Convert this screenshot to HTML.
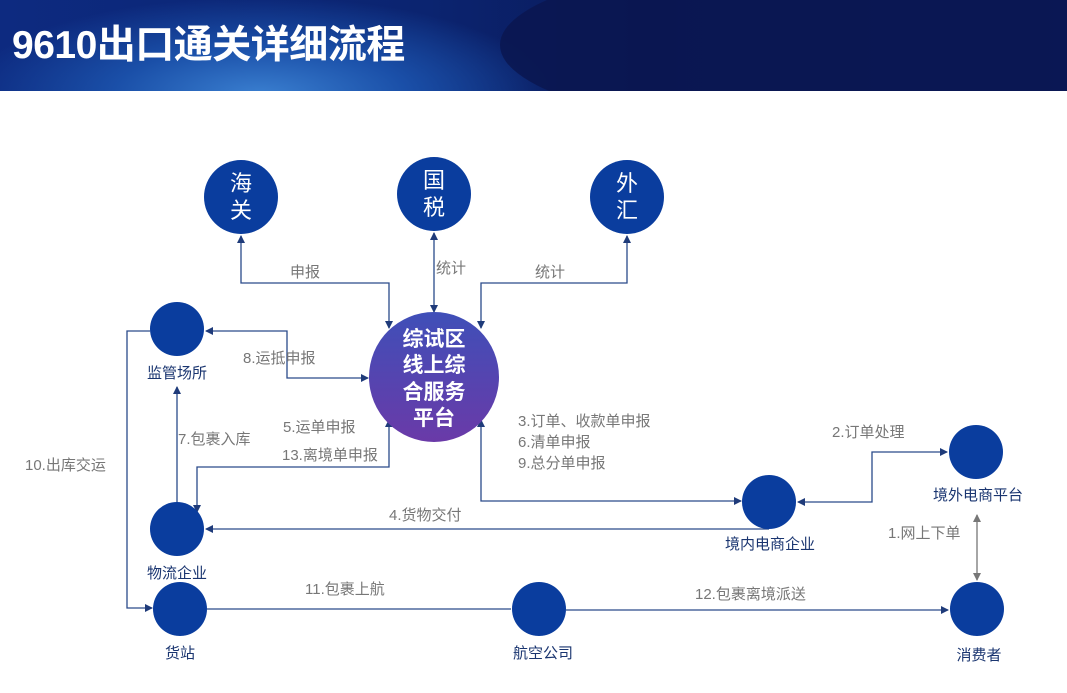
<!DOCTYPE html>
<html><head><meta charset="utf-8"><style>
html,body{margin:0;padding:0;width:1067px;height:693px;overflow:hidden;background:#fff;font-family:"Liberation Sans","Noto Sans CJK SC",sans-serif}
.hdr{position:absolute;left:0;top:0;width:1067px;height:91px;overflow:hidden;background:radial-gradient(ellipse 420px 140px at 260px 95px,#3a7fd0 0%,#1a4fa8 35%,transparent 70%),linear-gradient(90deg,#0d2a80 0%,#0b2470 40%,#0a1a5a 60%,#0c1f6a 100%)}
.hdr .e{position:absolute;left:500px;top:-40px;width:620px;height:170px;border-radius:50%;background:#0a1650;opacity:.85}
.ttl{position:absolute;left:12px;top:14px;color:#fff;font-size:39px;font-weight:bold;z-index:2;letter-spacing:-0.5px}
</style></head><body>
<div class="hdr"><div class="e"></div></div><div class="ttl">9610出口通关详细流程</div>
<svg width="1067" height="693" style="position:absolute;left:0;top:0" font-family="Liberation Sans, Noto Sans CJK SC, sans-serif">
<defs>
<marker id="a" markerWidth="8" markerHeight="8" refX="7" refY="4" orient="auto" markerUnits="userSpaceOnUse"><path d="M0,0 L8,4 L0,8 Z" fill="#1f3b7a"/></marker>
<marker id="g" markerWidth="8" markerHeight="8" refX="7" refY="4" orient="auto" markerUnits="userSpaceOnUse"><path d="M0,0 L8,4 L0,8 Z" fill="#777"/></marker>
<marker id="as" markerWidth="8" markerHeight="8" refX="1" refY="4" orient="auto" markerUnits="userSpaceOnUse"><path d="M8,0 L0,4 L8,8 Z" fill="#1f3b7a"/></marker>
<marker id="gs" markerWidth="8" markerHeight="8" refX="1" refY="4" orient="auto" markerUnits="userSpaceOnUse"><path d="M8,0 L0,4 L8,8 Z" fill="#777"/></marker>
<linearGradient id="pg" x1="0" y1="0" x2="0" y2="1"><stop offset="0" stop-color="#3f4fb8"/><stop offset="1" stop-color="#6a3aa8"/></linearGradient>
</defs>
<g fill="none" stroke="#2a4a8a" stroke-width="1.3">
<path d="M241,236 V283 H389 V328" marker-start="url(#as)" marker-end="url(#a)"/>
<path d="M434,233 V312" marker-start="url(#as)" marker-end="url(#a)"/>
<path d="M627,236 V283 H481 V328" marker-start="url(#as)" marker-end="url(#a)"/>
<path d="M206,331 H287 V378 H368" marker-start="url(#as)" marker-end="url(#a)"/>
<path d="M389,420 V467 H197 V512" marker-start="url(#as)" marker-end="url(#a)"/>
<path d="M177,503 V387" marker-end="url(#a)"/>
<path d="M150,331 H127 V608 H152" marker-end="url(#a)"/>
<path d="M481,420 V501 H741" marker-start="url(#as)" marker-end="url(#a)"/>
<path d="M769,529 H206" marker-end="url(#a)"/>
<path d="M798,502 H872 V452 H947" marker-start="url(#as)" marker-end="url(#a)"/>
<path d="M207,609 H511" />
<path d="M566,610 H948" marker-end="url(#a)"/>
</g>
<path d="M977,515 V580" stroke="#777" stroke-width="1.3" fill="none" marker-start="url(#gs)" marker-end="url(#g)"/>
<g fill="#0a3d9e">
<circle cx="241" cy="197" r="37"/><circle cx="434" cy="194" r="37"/><circle cx="627" cy="197" r="37"/>
<circle cx="177" cy="329" r="27"/><circle cx="177" cy="529" r="27"/><circle cx="180" cy="609" r="27"/>
<circle cx="539" cy="609" r="27"/><circle cx="977" cy="609" r="27"/><circle cx="769" cy="502" r="27"/><circle cx="976" cy="452" r="27"/>
</g>
<circle cx="434" cy="377" r="65" fill="url(#pg)"/>
<g fill="#fff" font-size="22" text-anchor="middle">
<text x="241" y="191">海</text><text x="241" y="218">关</text>
<text x="434" y="188">国</text><text x="434" y="215">税</text>
<text x="627" y="191">外</text><text x="627" y="218">汇</text>
</g>
<g fill="#fff" font-size="21" font-weight="bold" text-anchor="middle">
<text x="434" y="346">综试区</text><text x="434" y="372">线上综</text><text x="434" y="399">合服务</text><text x="434" y="425">平台</text>
</g>
<g fill="#1a3570" font-size="15" text-anchor="middle">
<text x="177" y="378">监管场所</text><text x="177" y="578">物流企业</text><text x="180" y="658">货站</text>
<text x="543" y="658">航空公司</text><text x="979" y="660">消费者</text><text x="770" y="549">境内电商企业</text><text x="978" y="500">境外电商平台</text>
</g>
<g fill="#777" font-size="15">
<text x="290" y="277">申报</text><text x="436" y="273">统计</text><text x="535" y="277">统计</text>
<text x="243" y="363">8.运抵申报</text><text x="283" y="432">5.运单申报</text><text x="282" y="460">13.离境单申报</text>
<text x="178" y="444">7.包裹入库</text><text x="25" y="470">10.出库交运</text>
<text x="518" y="426">3.订单、收款单申报</text><text x="518" y="447">6.清单申报</text><text x="518" y="468">9.总分单申报</text>
<text x="389" y="520">4.货物交付</text><text x="832" y="437">2.订单处理</text><text x="888" y="538">1.网上下单</text>
<text x="305" y="594">11.包裹上航</text><text x="695" y="599">12.包裹离境派送</text>
</g>
</svg>
</body></html>
